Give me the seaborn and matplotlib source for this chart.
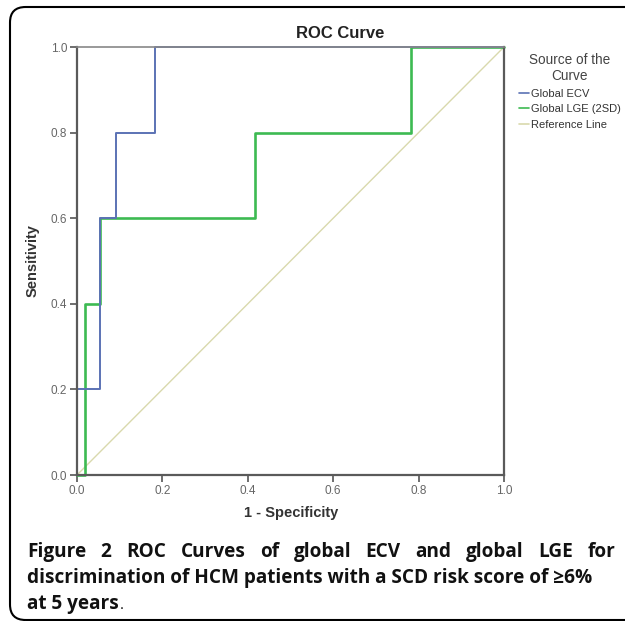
import pandas as pd
import matplotlib.pyplot as plt
import seaborn as sns
from matplotlib.patches import FancyBboxPatch
from matplotlib.lines import Line2D

# ==========================================
# data (ROC staircase vertices)
# ==========================================
ECV_FPR = [0.0, 0.0, 0.054, 0.054, 0.091, 0.091, 0.182, 0.182, 1.0]
ECV_TPR = [0.0, 0.2, 0.2, 0.6, 0.6, 0.8, 0.8, 1.0, 1.0]
LGE_FPR = [0.0, 0.018, 0.018, 0.054, 0.054, 0.418, 0.418, 0.782, 0.782, 1.0]
LGE_TPR = [0.0, 0.0, 0.4, 0.4, 0.6, 0.6, 0.8, 0.8, 1.0, 1.0]
REF_X = [0.0, 1.0]
REF_Y = [0.0, 1.0]

SERIES = ["Global ECV", "Global LGE (2SD)", "Reference Line"]
COLORS = ["#5b72b4", "#3dba52", "#d9d9ad"]
WIDTHS = [1.4, 1.9, 1.0]
TICKS = [0.0, 0.2, 0.4, 0.6, 0.8, 1.0]
TICK_LABELS = ["0.0", "0.2", "0.4", "0.6", "0.8", "1.0"]

W, H = 625, 621


def fx(px):
    return px / W


def fy(py):
    return 1 - py / H


sns.set_style("white")
plt.rcParams['font.family'] = ['Liberation Sans', 'DejaVu Sans']

fig = plt.figure(figsize=(W / 100, H / 100), dpi=100)
ax = fig.add_axes([fx(77), fy(475), fx(504) - fx(77), fy(47) - fy(475)])

curves = [(ECV_FPR, ECV_TPR), (LGE_FPR, LGE_TPR), (REF_X, REF_Y)]
frames = []
for name, (xs, ys) in zip(SERIES, curves):
    frames.append(pd.DataFrame({"fpr": xs, "tpr": ys, "series": name}))
df = pd.concat(frames, ignore_index=True)

# reference line first so the curves sit on top
for name, col, lw in reversed(list(zip(SERIES, COLORS, WIDTHS))):
    sns.lineplot(data=df[df.series == name], x="fpr", y="tpr", sort=False,
                 estimator=None, color=col, linewidth=lw, ax=ax,
                 legend=False, clip_on=False)

ax.set_xlim(0, 1)
ax.set_ylim(0, 1)
ax.set_xticks(TICKS)
ax.set_xticklabels(TICK_LABELS)
ax.set_yticks(TICKS)
ax.set_yticklabels(TICK_LABELS)
ax.tick_params(bottom=True, left=True, length=5, width=1.2, color="#555555",
               labelsize=8.5, labelcolor="#666666", pad=2)
for s in ["left", "bottom", "right"]:
    ax.spines[s].set_color("#5a5a5a")
    ax.spines[s].set_linewidth(1.6)
ax.spines["top"].set_color("#888888")
ax.spines["top"].set_linewidth(1.2)

ax.set_xlabel("")
ax.set_ylabel("")
fig.text(fx(291), fy(513), "1 - Specificity", fontsize=10.5, fontweight="bold",
         color="#333333", ha="center", va="center")
fig.text(fx(33), fy(261), "Sensitivity", fontsize=10.5, fontweight="bold",
         color="#333333", ha="center", va="center", rotation=90)
fig.text(fx(340), fy(33), "ROC Curve", fontsize=12, fontweight="bold",
         color="#222222", ha="center", va="center")

# legend outside the plot
handles = [Line2D([0], [0], color=c, lw=1.2) for c in COLORS]
leg = fig.legend(handles, SERIES, loc="upper left",
                 bbox_to_anchor=(fx(519), fy(53)), frameon=False,
                 title="Source of the\nCurve", title_fontsize=9.8,
                 fontsize=8, handlelength=0.9, handletextpad=0.15,
                 labelspacing=0.5, borderpad=0, borderaxespad=0,
                 alignment="center")
leg.get_title().set_multialignment("center")
for t in leg.get_texts():
    t.set_color("#333333")
leg.get_title().set_color("#444444")

# border around the figure panel
box = FancyBboxPatch((fx(10), fy(620)), fx(660) - fx(10), fy(7) - fy(620),
                     boxstyle="round,pad=0,rounding_size=0.025",
                     transform=fig.transFigure, fill=False,
                     edgecolor="black", linewidth=1.5, clip_on=False)
fig.patches.append(box)

# ==========================================
# caption
# ==========================================
CAP_FONT = ['Open Sans', 'DejaVu Sans']
LINE1 = ["Figure", "2", "ROC", "Curves", "of", "global", "ECV", "and",
         "global", "LGE", "for"]
LINE2 = "discrimination of HCM patients with a SCD risk score of \u22656%"
LINE3 = "at 5 years"

renderer = fig.canvas.get_renderer()

# pick a size so the second (unjustified) line ends where it does in the figure
probe = fig.text(0, 0, LINE2, fontsize=10, fontweight="bold", family=CAP_FONT)
cap_size = 10 * (593 - 27) / probe.get_window_extent(renderer).width
probe.remove()

x_left, x_right = 27, 615
texts, widths = [], []
for w in LINE1:
    t = fig.text(0, fy(557), w, fontsize=cap_size, fontweight="bold",
                 family=CAP_FONT, color="#111111", va="baseline")
    texts.append(t)
    widths.append(t.get_window_extent(renderer).width)
gap = (x_right - x_left - sum(widths)) / (len(LINE1) - 1)
x = x_left
for t, w in zip(texts, widths):
    t.set_x(fx(x))
    x += w + gap

fig.text(fx(x_left), fy(583), LINE2, fontsize=cap_size, fontweight="bold",
         family=CAP_FONT, color="#111111", va="baseline")
t3 = fig.text(fx(x_left), fy(609), LINE3, fontsize=cap_size, fontweight="bold",
              family=CAP_FONT, color="#111111", va="baseline")
w3 = t3.get_window_extent(renderer).width
fig.text(fx(x_left + w3 + 1), fy(609), ".", fontsize=cap_size * 0.8,
         family=CAP_FONT, color="#111111", va="baseline")

fig.savefig("out.png", dpi=100)
plt.close(fig)
